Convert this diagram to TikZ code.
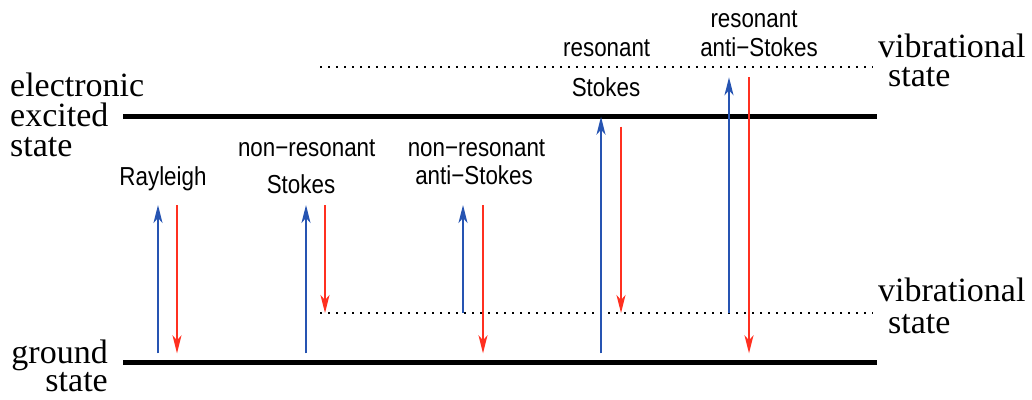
\documentclass[tikz,border=0pt]{standalone}
\usepackage{fontspec}
\setmainfont{Liberation Serif}
\newfontfamily\lsans[FakeStretch=0.86]{Liberation Sans}
\usetikzlibrary{arrows.meta}
\definecolor{upblue}{RGB}{38,84,178}
\definecolor{downred}{RGB}{255,48,32}
\tikzset{
  level/.style={line width=4.5pt},
  vib/.style={line width=2pt, dash pattern=on 1.6pt off 6.4pt},
  upar/.style={upblue, line width=2pt, -{Stealth[length=18pt,width=9pt,inset=5pt]}},
  downar/.style={downred, line width=2pt, -{Stealth[length=18pt,width=9pt,inset=5pt]}},
  serif/.style={inner sep=0pt, font=\fontsize{34}{34}\selectfont},
  sanslab/.style={inner sep=0pt, anchor=base, font=\lsans\fontsize{26}{26}\selectfont},
}
\begin{document}
\begin{tikzpicture}[x=1pt,y=-1pt]
\useasboundingbox (0,0) rectangle (1032,399);
% levels
\coordinate (exL) at (123,116.7);
\coordinate (exR) at (877,116.7);
\coordinate (gL) at (123,362.7);
\coordinate (gR) at (877,362.7);
\coordinate (vuL) at (320,67);
\coordinate (vuR) at (873,67);
\coordinate (vlL) at (320,313);
\coordinate (vlR) at (873,313);
\draw[level] (exL) -- (exR);
\draw[level] (gL) -- (gR);
\draw[vib] (vuL) -- (vuR);
\draw[vib] (vlL) -- (vlR);
% serif labels
\node[serif, anchor=base west] (el1) at (10,96.7) {electronic};
\node[serif, anchor=base west] (el2) at (10,126.7) {excited};
\node[serif, anchor=base west] (el3) at (10,156.7) {state};
\node[serif, anchor=base west] (vu1) at (878,57) {vibrational};
\node[serif, anchor=base west] (vu2) at (888,86.7) {state};
\node[serif, anchor=base west] (vl1) at (878,301.7) {vibrational};
\node[serif, anchor=base west] (vl2) at (888,333.3) {state};
\node[serif, anchor=base east] (gr1) at (108,363.3) {ground};
\node[serif, anchor=base east] (gr2) at (108,391.7) {state};
% sans labels
\node[sanslab] (ray) at (163,185) {Rayleigh};
\node[sanslab] (nrs1) at (306.7,156) {non−resonant};
\node[sanslab] (nrs2) at (301,193.3) {Stokes};
\node[sanslab] (nra1) at (476.5,156) {non−resonant};
\node[sanslab] (nra2) at (474,184) {anti−Stokes};
\node[sanslab] (rs1) at (606.7,56.7) {resonant};
\node[sanslab] (rs2) at (606,96.7) {Stokes};
\node[sanslab] (ra1) at (754,27.3) {resonant};
\node[sanslab] (ra2) at (759,56.7) {anti−Stokes};
% arrow endpoints
\coordinate (a1s) at (158,353.3); \coordinate (a1e) at (158,205);
\coordinate (b1s) at (177,205);   \coordinate (b1e) at (177,353.3);
\coordinate (a2s) at (306,353.3); \coordinate (a2e) at (306,205);
\coordinate (b2s) at (325,205);   \coordinate (b2e) at (325,313);
\coordinate (a3s) at (463,313);   \coordinate (a3e) at (463,205);
\coordinate (b3s) at (483,205);   \coordinate (b3e) at (483,353.3);
\coordinate (a4s) at (601,353.3); \coordinate (a4e) at (601,116.7);
\coordinate (b4s) at (621,126.7); \coordinate (b4e) at (621,313);
\coordinate (a5s) at (729,313);   \coordinate (a5e) at (729,77.3);
\coordinate (b5s) at (749,77.3);  \coordinate (b5e) at (749,353.3);
\draw[upar] (a1s) -- (a1e);
\draw[downar] (b1s) -- (b1e);
\draw[upar] (a2s) -- (a2e);
\draw[downar] (b2s) -- (b2e);
\draw[upar] (a3s) -- (a3e);
\draw[downar] (b3s) -- (b3e);
\draw[upar] (a4s) -- (a4e);
\draw[downar] (b4s) -- (b4e);
\draw[upar] (a5s) -- (a5e);
\draw[downar] (b5s) -- (b5e);
\end{tikzpicture}
\end{document}
